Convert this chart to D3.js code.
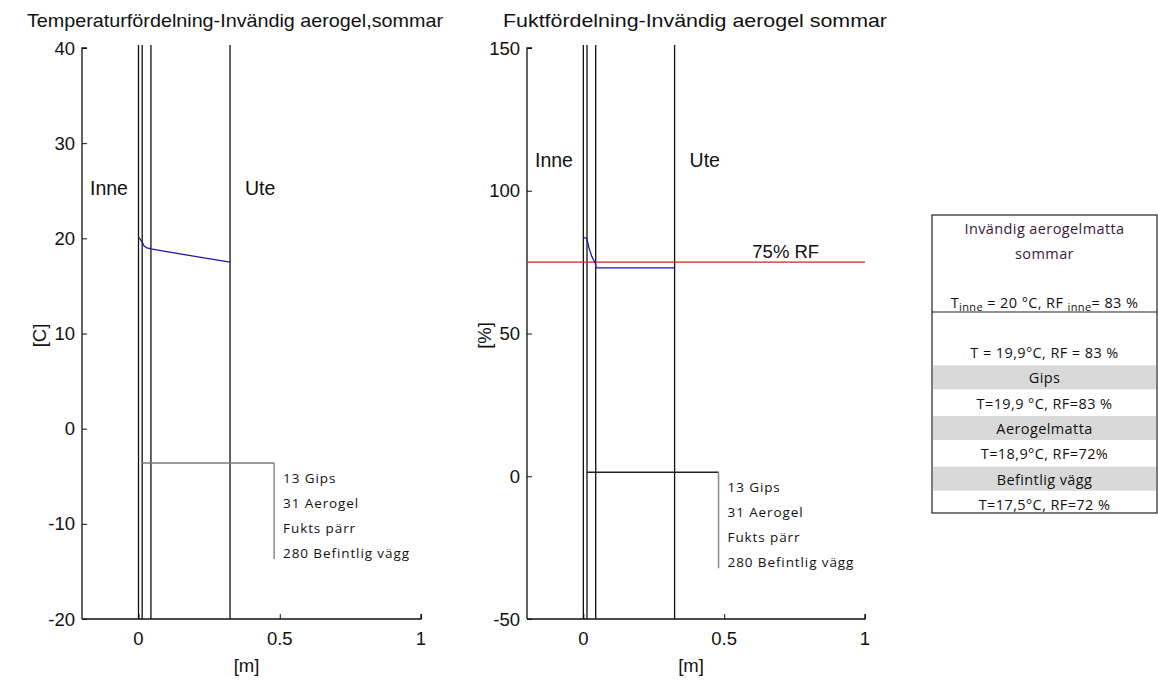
<!DOCTYPE html>
<html>
<head>
<meta charset="utf-8">
<script src="https://cdn.jsdelivr.net/npm/d3@7"></script>
<style>
  body { margin: 0; background: #fff; }
  svg { display: block; }
  .mat { font-family: "Liberation Sans", Arial, sans-serif; }
  .cal { font-family: "Open Sans", Lato, sans-serif; }
</style>
</head>
<body>
<svg id="chart" width="1158" height="681"></svg>
<script>
// ---------------- data ----------------
const xTicks = [0, 0.5, 1];
const tempTicks = [-20, -10, 0, 10, 20, 30, 40];
const rfTicks = [-50, 0, 50, 100, 150];
const layerBounds = [0, 0.013, 0.044, 0.324];   // m: inside, gips, aerogel, existing wall
const tempX = [0, 0.004, 0.013, 0.02, 0.03, 0.044, 0.1, 0.2, 0.324];
const tempY = [20.1, 20.0, 19.6, 19.2, 19.0, 18.9, 18.6, 18.1, 17.5];
const rfX = [0, 0.012, 0.02, 0.03, 0.043, 0.045, 0.324];
const rfY = [83.5, 83.5, 80, 77, 74.5, 73, 73];
const rfLimit = 75;
const legendLabels = ["13 Gips", "31 Aerogel", "Fukts pärr", "280 Befintlig vägg"];
const tableTitle = ["Invändig aerogelmatta", "sommar"];
const tableRows = [
  {text: "T = 19,9°C, RF = 83 %", shaded: false},
  {text: "Gips", shaded: true},
  {text: "T=19,9 °C, RF=83 %", shaded: false},
  {text: "Aerogelmatta", shaded: true},
  {text: "T=18,9°C, RF=72%", shaded: false},
  {text: "Befintlig vägg", shaded: true},
  {text: "T=17,5°C, RF=72 %", shaded: false}
];

// ---------------- drawing ----------------
const svg = d3.select("#chart");
const FS = 18.5;

function panel(opt) {
  const x = d3.scaleLinear().domain([-0.2, 1]).range([opt.left, opt.right]);
  const y = d3.scaleLinear().domain(opt.yDomain).range([619, 48]);
  const g = svg.append("g");

  // title
  g.append("text").attr("class", "mat")
    .attr("x", opt.titleX).attr("y", 27)
    .attr("font-size", FS).attr("text-anchor", "middle").attr("fill", "#111")
    .attr("textLength", opt.titleW).attr("lengthAdjust", "spacingAndGlyphs")
    .text(opt.title);

  // layer boundary lines
  g.selectAll(".layer").data(layerBounds).enter().append("line")
    .attr("x1", d => x(d)).attr("x2", d => x(d))
    .attr("y1", y(opt.yDomain[0])).attr("y2", y(opt.yDomain[1]) - 3)
    .attr("stroke", "#111").attr("stroke-width", 1.3);

  // axes (MATLAB style: inward ticks, box off)
  const ya = d3.axisRight(y).tickValues(opt.yTicks).tickSize(5).tickFormat("");
  g.append("g").attr("transform", `translate(${opt.left},0)`).call(ya)
    .call(s => s.select(".domain").attr("d", `M5,${y(opt.yDomain[1])}H0V${y(opt.yDomain[0])}`));
  g.selectAll(".ylab").data(opt.yTicks).enter().append("text").attr("class", "mat")
    .attr("x", opt.left - 7).attr("y", d => y(d) + 6.5)
    .attr("text-anchor", "end").attr("font-size", FS).attr("fill", "#111")
    .text(d => d);

  const xa = d3.axisTop(x).tickValues(xTicks).tickSize(5).tickFormat("");
  g.append("g").attr("transform", `translate(0,619)`).call(xa)
    .call(s => s.select(".domain").attr("d", `M${opt.left},0H${opt.right}V-5`));
  g.selectAll(".xlab").data(xTicks).enter().append("text").attr("class", "mat")
    .attr("x", d => x(d)).attr("y", 645)
    .attr("text-anchor", "middle").attr("font-size", FS).attr("fill", "#111")
    .text(d => d);
  g.selectAll(".tick line").attr("stroke", "#111");
  g.selectAll(".domain").attr("stroke", "#111").attr("stroke-width", 1.3);

  // axis labels
  g.append("text").attr("class", "mat").attr("x", (opt.left + opt.right) / 2 - 5).attr("y", 672)
    .attr("text-anchor", "middle").attr("font-size", FS).attr("fill", "#111").text("[m]");
  g.append("text").attr("class", "mat")
    .attr("transform", `translate(${opt.left - 36},${y((opt.yDomain[0] + opt.yDomain[1]) / 2) + 2}) rotate(-90)`)
    .attr("text-anchor", "middle").attr("font-size", FS).attr("fill", "#111").text(opt.yLabel);

  // Inne / Ute labels
  g.append("text").attr("class", "mat").attr("x", opt.left + 8).attr("y", opt.sideY)
    .attr("font-size", FS + 1).attr("fill", "#111").text("Inne");
  g.append("text").attr("class", "mat").attr("x", x(layerBounds[3]) + 15).attr("y", opt.sideY)
    .attr("font-size", FS + 1).attr("fill", "#111").text("Ute");

  // legend bracket
  const cx = x(0.48), cy = y(opt.legendY);
  g.append("line").attr("x1", x(layerBounds[1])).attr("x2", cx).attr("y1", cy).attr("y2", cy)
    .attr("stroke", opt.legendHColor).attr("stroke-width", 1.5);
  g.append("line").attr("x1", cx).attr("x2", cx).attr("y1", cy).attr("y2", cy + 96)
    .attr("stroke", "#8a8a8a").attr("stroke-width", 1.5);
  g.selectAll(".leg").data(legendLabels).enter().append("text").attr("class", "cal")
    .attr("x", cx + 9).attr("y", (d, i) => cy + 20 + i * 25)
    .attr("font-size", 13.5).attr("letter-spacing", 0.9).attr("fill", "#111").text(d => d);

  return {g, x, y};
}

// Left: temperature
const L = panel({
  left: 82, right: 421, yDomain: [-20, 40], yTicks: tempTicks,
  title: "Temperaturfördelning-Invändig aerogel,sommar", titleX: 235, titleW: 416,
  yLabel: "[C]", sideY: 195, legendY: -3.6, legendHColor: "#7a7a7a"
});
L.g.append("path")
  .datum(d3.zip(tempX, tempY))
  .attr("d", d3.line().x(d => L.x(d[0])).y(d => L.y(d[1])))
  .attr("fill", "none").attr("stroke", "#1a1aa8").attr("stroke-width", 1.3);

// Right: relative humidity
const R = panel({
  left: 527, right: 865, yDomain: [-50, 150], yTicks: rfTicks,
  title: "Fuktfördelning-Invändig aerogel sommar", titleX: 695, titleW: 384,
  yLabel: "[%]", sideY: 167, legendY: 1.4, legendHColor: "#222"
});
R.g.append("line")
  .attr("x1", R.x(-0.2)).attr("x2", R.x(1)).attr("y1", R.y(rfLimit)).attr("y2", R.y(rfLimit))
  .attr("stroke", "#d42020").attr("stroke-width", 1.3);
R.g.append("text").attr("class", "mat").attr("x", R.x(0.6)).attr("y", R.y(rfLimit) - 4)
  .attr("font-size", FS).attr("fill", "#111").text("75% RF");
R.g.append("path")
  .datum(d3.zip(rfX, rfY))
  .attr("d", d3.line().x(d => R.x(d[0])).y(d => R.y(d[1])))
  .attr("fill", "none").attr("stroke", "#1a1aa8").attr("stroke-width", 1.3);

// Table
const T = svg.append("g").attr("class", "cal");
const tx0 = 932, tx1 = 1157, tcx = (tx0 + tx1) / 2;
const TF = 14.5, LS = 0.4;
T.append("rect").attr("x", tx0).attr("y", 215).attr("width", tx1 - tx0).attr("height", 298)
  .attr("fill", "#fff").attr("stroke", "#222").attr("stroke-width", 1.2);
T.selectAll(".tt").data(tableTitle).enter().append("text")
  .attr("x", tcx).attr("y", (d, i) => 234 + i * 25)
  .attr("text-anchor", "middle").attr("font-size", TF).attr("letter-spacing", LS)
  .attr("fill", "#3a1838").text(d => d);
const sub = T.append("text").attr("x", tcx).attr("y", 308).attr("text-anchor", "middle")
  .attr("font-size", TF).attr("letter-spacing", LS).attr("fill", "#111");
sub.append("tspan").attr("fill", "#111").text("T");
sub.append("tspan").attr("fill", "#111").attr("font-size", 11).attr("dy", 3).text("inne");
sub.append("tspan").attr("fill", "#111").attr("dy", -3).text(" = 20 °C, RF ");
sub.append("tspan").attr("fill", "#111").attr("font-size", 11).attr("dy", 3).text("inne");
sub.append("tspan").attr("fill", "#111").attr("dy", -3).text("= 83 %");
T.append("line").attr("x1", tx0).attr("x2", tx1).attr("y1", 312).attr("y2", 312)
  .attr("stroke", "#222").attr("stroke-width", 1.2);
const rowY = d3.scaleLinear().domain([0, 6]).range([353, 505]);
T.selectAll(".band").data(tableRows.filter(d => d.shaded)).enter().append("rect")
  .attr("x", tx0 + 1).attr("width", tx1 - tx0 - 2)
  .attr("y", d => rowY(tableRows.indexOf(d)) - 13).attr("height", 24)
  .attr("fill", "#d9d9d9");
T.selectAll(".row").data(tableRows).enter().append("text")
  .attr("x", tcx).attr("y", (d, i) => rowY(i) + 5)
  .attr("text-anchor", "middle").attr("font-size", TF).attr("letter-spacing", LS)
  .attr("fill", "#111").text(d => d.text);
</script>
</body>
</html>
